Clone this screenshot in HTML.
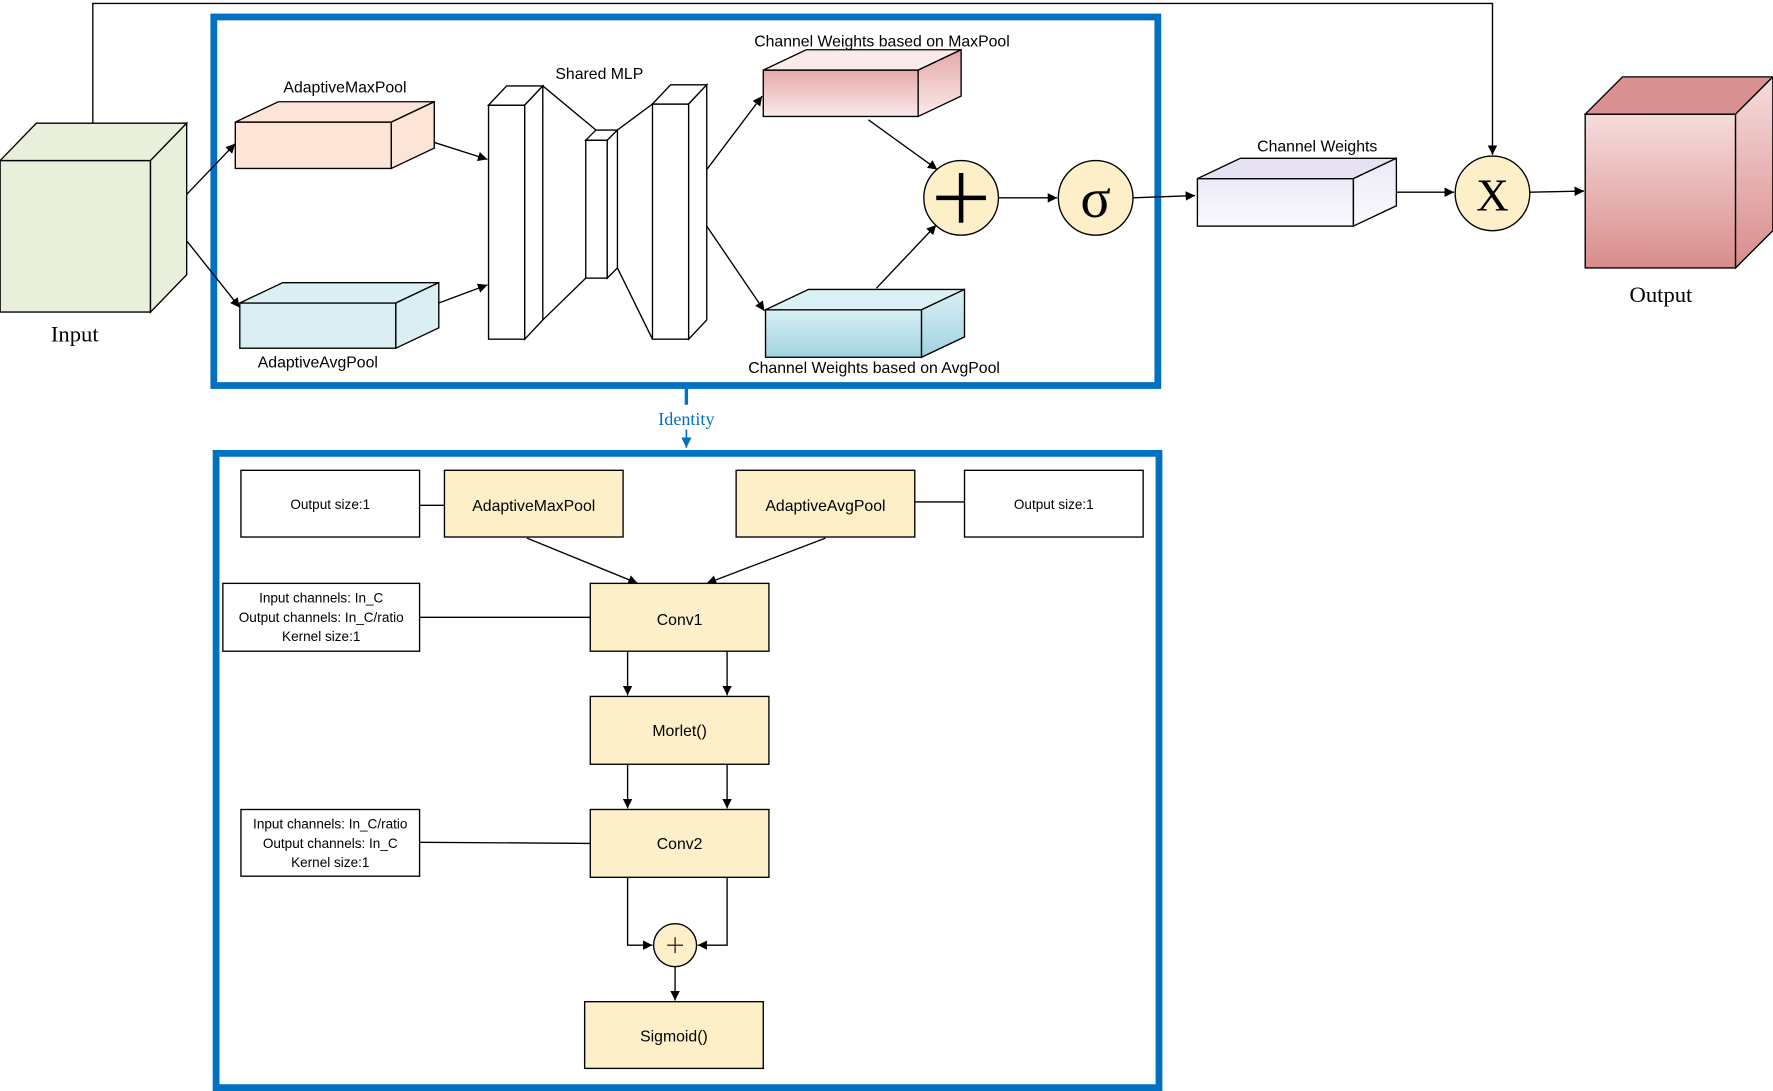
<!DOCTYPE html>
<html><head><meta charset="utf-8"><style>html,body{margin:0;padding:0;background:#fff}svg{display:block}</style></head>
<body>
<svg width="1773" height="1091" viewBox="0 0 1568 965" xmlns="http://www.w3.org/2000/svg" font-family="Liberation Sans, sans-serif">
<defs>
<marker id="a" viewBox="0 0 10 10" refX="10" refY="5" markerWidth="7" markerHeight="7" orient="auto"><path d="M0,0L10,5L0,10z" fill="#000"/></marker>
<marker id="b" viewBox="0 0 10 10" refX="10" refY="5" markerWidth="6" markerHeight="6" orient="auto"><path d="M0,0L10,5L0,10z" fill="#0070c0"/></marker>
<linearGradient id="pk" x1="0" y1="0" x2="0" y2="1"><stop offset="0" stop-color="#e3a9a9"/><stop offset="1" stop-color="#fbeaea"/></linearGradient>
<linearGradient id="bl" x1="0" y1="0" x2="0" y2="1"><stop offset="0" stop-color="#d9f0f5"/><stop offset="1" stop-color="#9fd3e0"/></linearGradient>
<linearGradient id="lv" x1="0" y1="0" x2="0" y2="1"><stop offset="0" stop-color="#ece8f6"/><stop offset="1" stop-color="#fbfaff"/></linearGradient>
<linearGradient id="op" x1="0" y1="0" x2="0" y2="1"><stop offset="0" stop-color="#f6dcdc"/><stop offset="1" stop-color="#d98c8c"/></linearGradient>
</defs>
<g stroke="#000" stroke-width="1.2">
<!-- Input cube -->
<rect x="0" y="142" width="133" height="134" fill="#e8f0dc"/>
<polygon points="0,142 32,109 165,109 133,142" fill="#e8f0dc"/>
<polygon points="133,142 165,109 165,243 133,276" fill="#e8f0dc"/>
<polyline points="82,109 82,3 1320,3 1320,137" fill="none" marker-end="url(#a)"/>
<!-- box 1 -->
<rect x="189" y="15" width="835" height="326" fill="none" stroke="#0070c0" stroke-width="6"/>
<!-- maxpool -->
<rect x="208" y="108" width="138" height="41" fill="#fce4d6"/>
<polygon points="208,108 246,90 384,90 346,108" fill="#fce4d6"/>
<polygon points="346,108 384,90 384,131 346,149" fill="#fce4d6"/>
<!-- avgpool -->
<rect x="212" y="268" width="138" height="40" fill="#dbeef4"/>
<polygon points="212,268 250,250 388,250 350,268" fill="#dbeef4"/>
<polygon points="350,268 388,250 388,290 350,308" fill="#dbeef4"/>
<line x1="165" y1="172" x2="208" y2="127" marker-end="url(#a)"/>
<line x1="165" y1="213" x2="212" y2="272" marker-end="url(#a)"/>
<line x1="384" y1="126" x2="431" y2="141" marker-end="url(#a)"/>
<line x1="388" y1="268" x2="431" y2="252" marker-end="url(#a)"/>
<!-- MLP -->
<rect x="432" y="93" width="32" height="207" fill="#fff"/>
<polygon points="432,93 448,76 480,76 464,93" fill="#fff"/>
<polygon points="464,93 480,76 480,283 464,300" fill="#fff"/>
<line x1="480" y1="76" x2="527" y2="115"/><line x1="480" y1="283" x2="518" y2="246"/>
<rect x="518" y="124" width="19" height="122" fill="#fff"/>
<polygon points="518,124 527,115 546,115 537,124" fill="#fff"/>
<polygon points="537,124 546,115 546,237 537,246" fill="#fff"/>
<line x1="546" y1="115" x2="577" y2="92"/><line x1="546" y1="237" x2="577" y2="300"/>
<rect x="577" y="92" width="32" height="208" fill="#fff"/>
<polygon points="577,92 593,75 625,75 609,92" fill="#fff"/>
<polygon points="609,92 625,75 625,283 609,300" fill="#fff"/>
<line x1="625" y1="150" x2="674" y2="85" marker-end="url(#a)"/>
<line x1="625" y1="200" x2="676" y2="275" marker-end="url(#a)"/>
<!-- CW max -->
<rect x="675" y="62" width="137" height="41" fill="url(#pk)"/>
<polygon points="675,62 713,44 850,44 812,62" fill="#fbeaea"/>
<polygon points="812,62 850,44 850,85 812,103" fill="url(#pk)"/>
<!-- CW avg -->
<rect x="677" y="274" width="138" height="42" fill="url(#bl)"/>
<polygon points="677,274 715,256 853,256 815,274" fill="#d9f0f5"/>
<polygon points="815,274 853,256 853,298 815,316" fill="url(#bl)"/>
<line x1="768" y1="106" x2="829" y2="150" marker-end="url(#a)"/>
<line x1="775" y1="255" x2="828" y2="199" marker-end="url(#a)"/>
<circle cx="850" cy="175" r="33" fill="#fdf0c8"/>
<path d="M828,175H872M850,153V197" stroke-width="4"/>
<line x1="883" y1="175" x2="935" y2="175" marker-end="url(#a)"/>
<circle cx="969" cy="175" r="33" fill="#fdf0c8"/>
<line x1="1002" y1="175" x2="1057" y2="173" marker-end="url(#a)"/>
<rect x="1059" y="158" width="138" height="42" fill="url(#lv)"/>
<polygon points="1059,158 1097,140 1235,140 1197,158" fill="#e6e1f3"/>
<polygon points="1197,158 1235,140 1235,182 1197,200" fill="url(#lv)"/>
<line x1="1235" y1="170" x2="1286" y2="170" marker-end="url(#a)"/>
<circle cx="1320" cy="171" r="33" fill="#fdf0c8"/>
<line x1="1353" y1="170" x2="1401" y2="169" marker-end="url(#a)"/>
<rect x="1402" y="101" width="133" height="136" fill="url(#op)"/>
<polygon points="1402,101 1435,68 1568,68 1535,101" fill="#d99090"/>
<polygon points="1535,101 1568,68 1568,204 1535,237" fill="url(#op)"/>
<!-- identity -->
<line x1="607" y1="343" x2="607" y2="358" stroke="#0070c0" stroke-width="3"/>
<line x1="607" y1="380" x2="607" y2="396" stroke="#0070c0" stroke-width="1.5" marker-end="url(#b)"/>
<rect x="191" y="401" width="834" height="561" fill="none" stroke="#0070c0" stroke-width="6"/>
<!-- lower -->
<rect x="213" y="416" width="158" height="59" fill="#fff"/>
<rect x="393" y="416" width="158" height="59" fill="#fdf0c8"/>
<rect x="651" y="416" width="158" height="59" fill="#fdf0c8"/>
<rect x="853" y="416" width="158" height="59" fill="#fff"/>
<line x1="371" y1="447" x2="393" y2="447"/><line x1="809" y1="444" x2="853" y2="444"/>
<line x1="466" y1="476" x2="564" y2="516" marker-end="url(#a)"/>
<line x1="730" y1="476" x2="625" y2="516" marker-end="url(#a)"/>
<rect x="522" y="516" width="158" height="60" fill="#fdf0c8"/>
<rect x="197" y="516" width="174" height="60" fill="#fff"/>
<line x1="371" y1="546" x2="522" y2="546"/>
<line x1="555" y1="576" x2="555" y2="615" marker-end="url(#a)"/>
<line x1="643" y1="576" x2="643" y2="615" marker-end="url(#a)"/>
<rect x="522" y="616" width="158" height="60" fill="#fdf0c8"/>
<line x1="555" y1="676" x2="555" y2="715" marker-end="url(#a)"/>
<line x1="643" y1="676" x2="643" y2="715" marker-end="url(#a)"/>
<rect x="522" y="716" width="158" height="60" fill="#fdf0c8"/>
<rect x="213" y="716" width="158" height="59" fill="#fff"/>
<line x1="371" y1="745" x2="522" y2="746"/>
<polyline points="555,776 555,836 577,836" fill="none" marker-end="url(#a)"/>
<polyline points="643,776 643,836 617,836" fill="none" marker-end="url(#a)"/>
<circle cx="597" cy="836" r="19" fill="#fdf0c8"/>
<path d="M590,836H604M597,829V843" stroke-width="1"/>
<line x1="597" y1="855" x2="597" y2="885" marker-end="url(#a)"/>
<rect x="517" y="886" width="158" height="59" fill="#fdf0c8"/>
</g>
<g font-size="14" text-anchor="middle" fill="#000">
<text x="305" y="82">AdaptiveMaxPool</text>
<text x="281" y="325">AdaptiveAvgPool</text>
<text x="530" y="70">Shared MLP</text>
<text x="780" y="41">Channel Weights based on MaxPool</text>
<text x="773" y="330">Channel Weights based on AvgPool</text>
<text x="1165" y="134">Channel Weights</text>
<text x="472" y="452">AdaptiveMaxPool</text>
<text x="730" y="452">AdaptiveAvgPool</text>
<text x="601" y="553">Conv1</text>
<text x="601" y="651">Morlet()</text>
<text x="601" y="751">Conv2</text>
<text x="596" y="921">Sigmoid()</text>
<g font-size="12">
<text x="292" y="450">Output size:1</text>
<text x="932" y="450">Output size:1</text>
<text x="284" y="533">Input channels: In_C</text>
<text x="284" y="550">Output channels: In_C/ratio</text>
<text x="284" y="567">Kernel size:1</text>
<text x="292" y="733">Input channels: In_C/ratio</text>
<text x="292" y="750">Output channels: In_C</text>
<text x="292" y="767">Kernel size:1</text>
</g>
</g>
<g font-family="Liberation Serif, serif" text-anchor="middle">
<text x="66" y="302" font-size="20">Input</text>
<text x="1469" y="267" font-size="20">Output</text>
<text x="607" y="376" font-size="16" fill="#0070c0">Identity</text>
<text x="969" y="192" font-size="50">σ</text>
<text x="1320" y="186" font-size="40">X</text>
</g>
</svg>
</body></html>
